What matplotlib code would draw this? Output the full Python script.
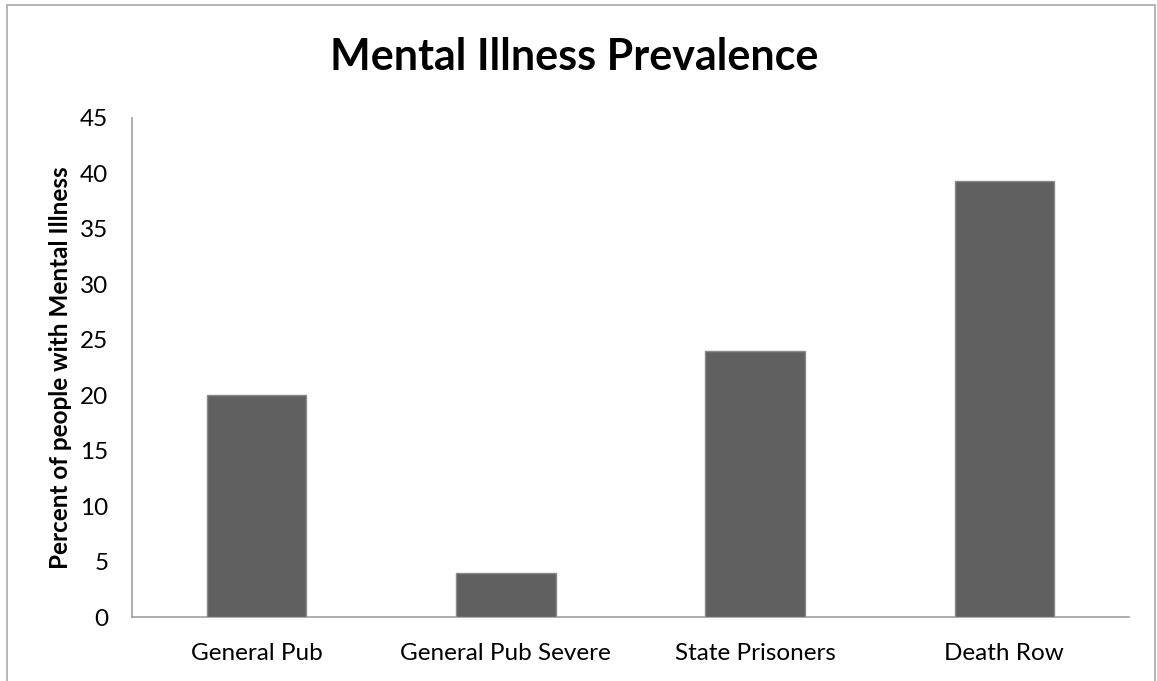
import matplotlib
matplotlib.use("Agg")
import matplotlib.pyplot as plt
from matplotlib.patches import Rectangle

categories = ["General Pub", "General Pub Severe", "State Prisoners", "Death Row"]
values = [20, 4, 24, 39.3]
yticks = [0, 5, 10, 15, 20, 25, 30, 35, 40, 45]

plt.rcParams["font.family"] = ["Lato", "DejaVu Sans"]

fig = plt.figure(figsize=(11.57, 6.81), dpi=100)
ax = fig.add_axes([132 / 1157, 1 - 617 / 681, (1129 - 132) / 1157, (617 - 118) / 681])

x = list(range(len(categories)))
ax.bar(x, values, width=0.4, color="#606060", edgecolor="#8a8a8a", linewidth=1.0, zorder=3)

ax.set_xlim(-0.5, len(categories) - 0.5)
ax.set_ylim(0, 45)
ax.set_yticks(yticks)
ax.set_xticks(x)
ax.set_xticklabels(categories)
ax.tick_params(axis="both", length=0, labelsize=17.5, colors="black")
ax.tick_params(axis="x", pad=19)
ax.tick_params(axis="y", pad=17)

for side in ["top", "right"]:
    ax.spines[side].set_visible(False)
for side in ["left", "bottom"]:
    ax.spines[side].set_color("#a0a0a0")
    ax.spines[side].set_linewidth(1.2)

ax.set_ylabel("Percent of people with Mental Illness", fontsize=17.5, fontweight="bold", labelpad=6)
fig.text(574 / 1157, 1 - 57 / 681, "Mental Illness Prevalence", fontsize=31, fontweight="bold",
         ha="center", va="center")

# outer chart frame
fig.patches.append(Rectangle((7 / 1157, -0.05), (1155 - 7) / 1157, 1.05 - 5 / 681,
                             transform=fig.transFigure, fill=False, edgecolor="#a8a8a8",
                             linewidth=1.2))

fig.savefig("out.png", dpi=100)
